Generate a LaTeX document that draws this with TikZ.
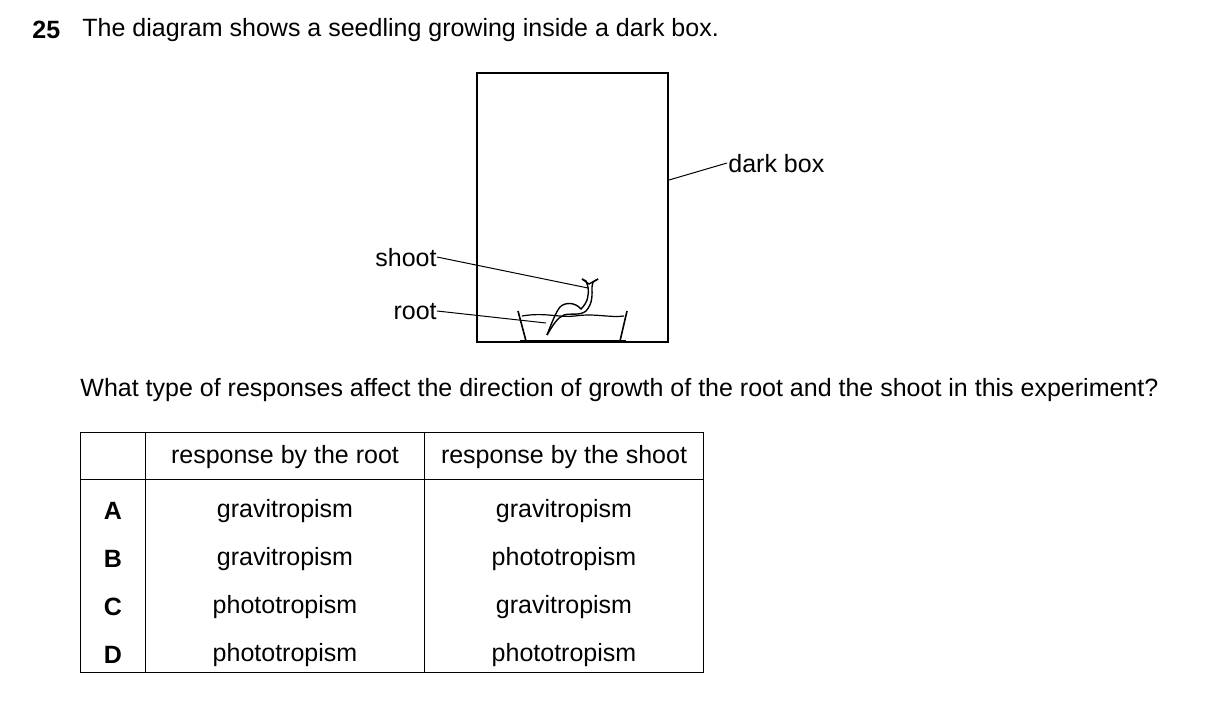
\documentclass[tikz,border=0pt]{standalone}
\usepackage{fontspec}
\setmainfont{Liberation Sans}
\begin{document}
\begin{tikzpicture}[x=0.5pt, y=-0.5pt,
  txt/.style={inner sep=0pt, font=\fontsize{12.5}{14}\selectfont},
  lbl/.style={txt, font=\fontsize{12.5}{14}\selectfont\bfseries},
  thin line/.style={line width=0.5pt}]
 \useasboundingbox (0,0) rectangle (1209,723);
 % question
 \node (num) [lbl, anchor=west] at (32,30) {25};
 \node (q) [txt, anchor=west] at (82,30) {The diagram shows a seedling growing inside a dark box.};
 % box and dish
 \draw[line width=0.9pt] (477,73) rectangle (668,342);
 \draw[line width=0.8pt] (518,311) -- (526,341) -- (620,341) -- (627,311);
 \draw[line width=1.3pt] (520,341.5) -- (626,341.5);
 \draw[line width=0.6pt] (522,316) .. controls (545,312) and (560,318) .. (575,316) .. controls (595,313) and (610,318) .. (624,316);
 % seedling
 \draw[line width=0.7pt] (547,335) .. controls (552,322) and (556,312) .. (560,307) .. controls (565,302) and (575,302) .. (581,309) .. controls (588,302) and (589,295) .. (588,287) -- (586,281) -- (582,279);
 \draw[line width=0.7pt] (547,335) .. controls (553,325) and (557,318) .. (564,315) .. controls (570,313) and (580,316) .. (586,311) .. controls (593,303) and (592,295) .. (592,287) -- (593,282) -- (598,279);
 \draw[line width=0.7pt] (582,279) -- (589,284) -- (598,279);
 \coordinate (shootpt) at (588,288);
 \coordinate (rootpt) at (546,323);
 \coordinate (boxpt) at (669,180);
 \node (shoot) [txt, anchor=east] at (437,258) {shoot};
 \node (root) [txt, anchor=east] at (437,312) {root};
 \node (dark) [txt, anchor=west] at (728,164) {dark box};
 \draw[thin line] (437,257) -- (shootpt);
 \draw[thin line] (437,311) -- (rootpt);
 \draw[thin line] (boxpt) -- (727,163);
 \node (q2) [txt, anchor=west] at (80,390) {What type of responses affect the direction of growth of the root and the shoot in this experiment?};
 % table
 \draw[thin line] (80,432) rectangle (703,672);
 \draw[thin line] (80,479) -- (703,479);
 \draw[thin line] (145,432) -- (145,672);
 \draw[thin line] (424,432) -- (424,672);
 \node (hroot) [txt] at (285,457) {response by the root};
 \node (hshoot) [txt] at (564,457) {response by the shoot};
 \foreach \l/\r/\s [count=\i from 0] in {A/gravitropism/gravitropism, B/gravitropism/phototropism, C/phototropism/gravitropism, D/phototropism/phototropism} {
   \node (row\l) [lbl] at (113,511+48*\i) {\l};
   \node (root\l) [txt] at (285,511+48*\i) {\r};
   \node (shoot\l) [txt] at (564,511+48*\i) {\s};
 }
\end{tikzpicture}
\end{document}
